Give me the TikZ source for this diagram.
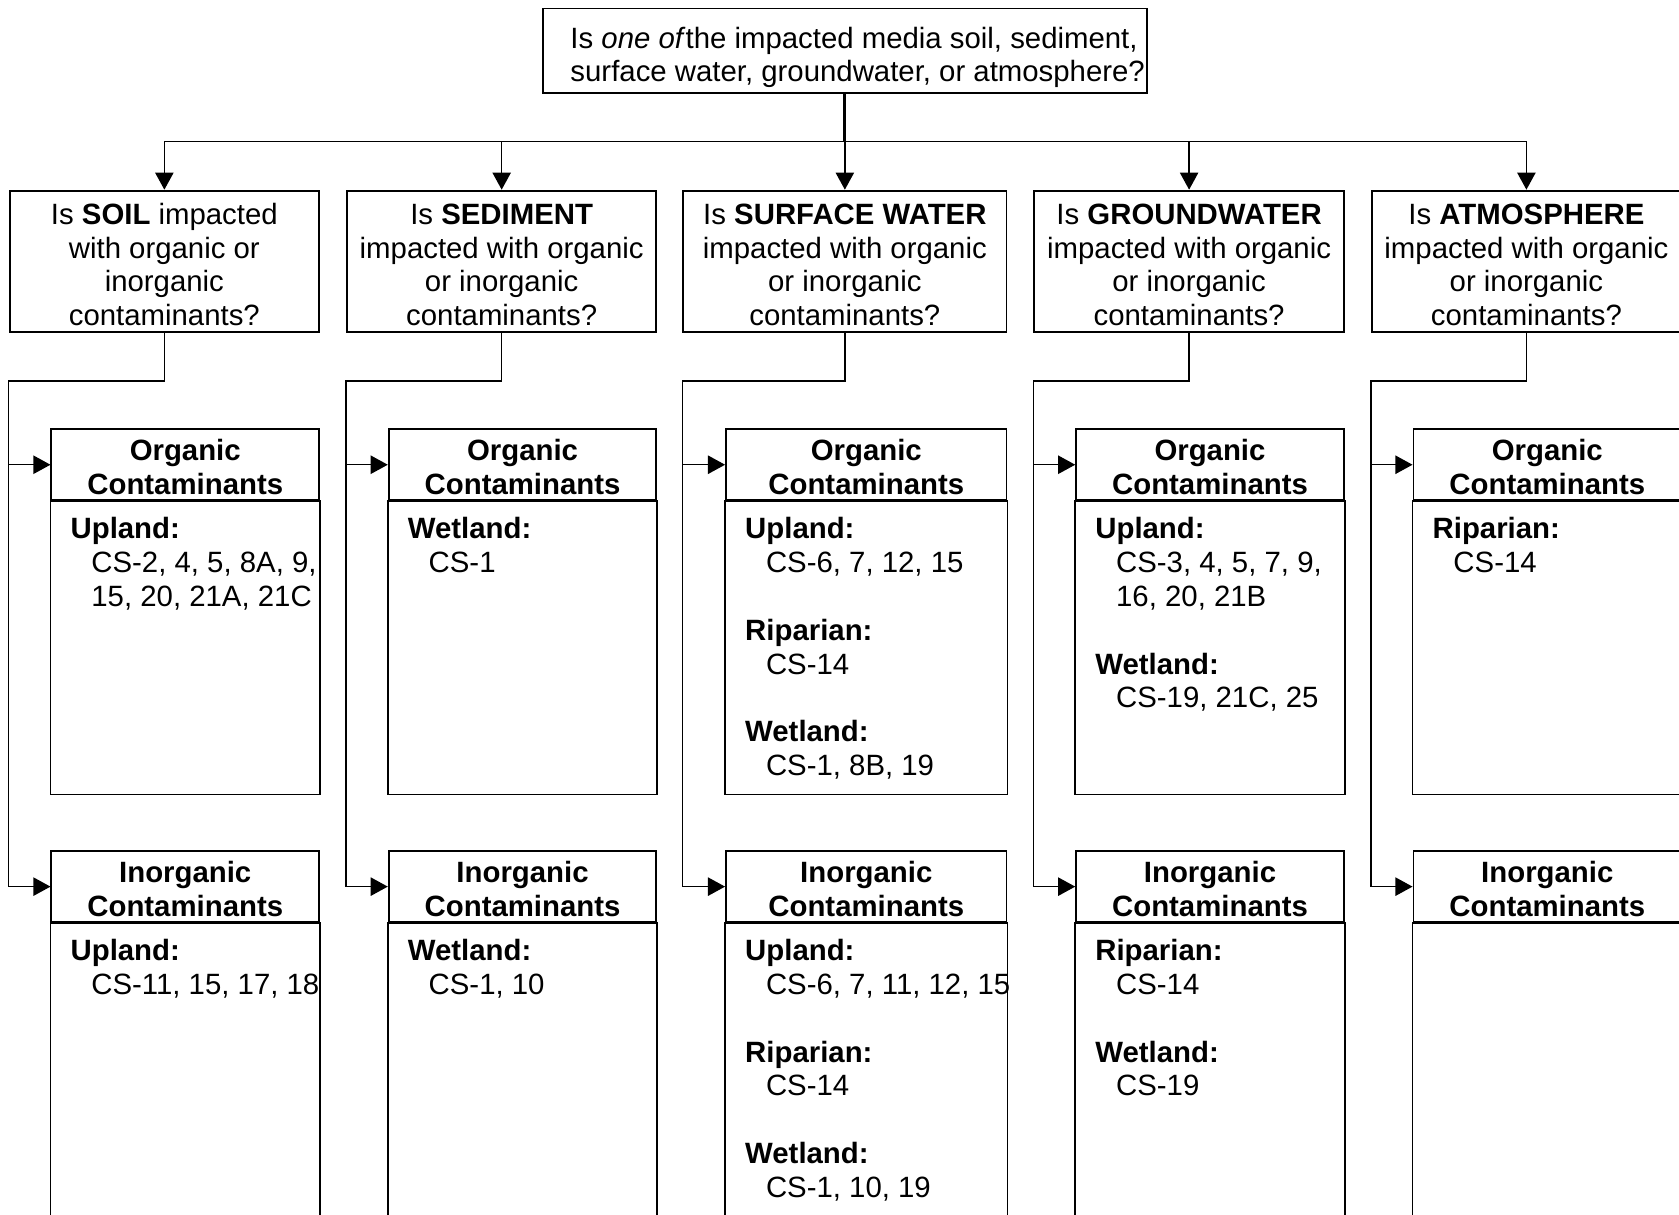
\documentclass[tikz,border=0pt]{standalone}
\usepackage{fontspec}
\setmainfont{Liberation Sans}
\usetikzlibrary{arrows.meta}
\newcommand{\pu}{0.4377pt}
\newcommand{\gap}{\hspace*{8.5pt}}
\newcommand{\lead}{\hspace*{10.5pt}}
\tikzset{
  txt/.style={font=\fontsize{12}{13.8}\selectfont},
  topbox/.style={txt, draw, line width=0.75pt, align=left, inner sep=0pt, minimum width={564*\pu}, minimum height={79*\pu}, text height=27.8pt, text depth=2.5pt},
  qbox/.style={txt, draw, line width=0.75pt, align=center, inner sep=0pt, minimum width={289*\pu}, minimum height={132*\pu}, text height=52.6pt, text depth=0pt},
  hbox/.style={txt, draw, line width=0.75pt, align=center, inner sep=0pt, minimum width={250*\pu}, minimum height={66*\pu}, font=\fontsize{12}{13.8}\selectfont\bfseries, text height=24.3pt, text depth=0pt},
  list/.style={txt, anchor=north west, align=left, inner sep=0pt},
  link/.style={line width=0.6pt},
  arr/.style={link, -{Triangle[length=7pt,width=7.5pt]}},
}
\begin{document}
\begin{tikzpicture}[x=\pu, y=-\pu]
  \useasboundingbox (0,0) rectangle (1568,1134);
  \clip (0,0) rectangle (1568,1134);
  % Question boxes
  \node[topbox] (top) at (789,47.5) {\lead Is \textit{one of}the impacted media soil, sediment,\\\lead surface water, groundwater, or atmosphere?};
  \node[qbox] (q1) at (153.5,244) {Is \textbf{SOIL} impacted\\with organic or\\inorganic\\contaminants?};
  \node[qbox] (q2) at (468.5,244) {Is \textbf{SEDIMENT}\\impacted with organic\\or inorganic\\contaminants?};
  \node[qbox, minimum width={302*\pu}] (q3) at (789,244) {Is \textbf{SURFACE WATER}\\impacted with organic\\or inorganic\\contaminants?};
  \node[qbox] (q4) at (1110.5,244) {Is \textbf{GROUNDWATER}\\impacted with organic\\or inorganic\\contaminants?};
  \node[qbox] (q5) at (1425.5,244) {Is \textbf{ATMOSPHERE}\\impacted with organic\\or inorganic\\contaminants?};
  % Contaminant headers
  \node[hbox] (oh1) at (173,434) {Organic\\Contaminants};
  \node[hbox] (oh2) at (488,434) {Organic\\Contaminants};
  \node[hbox, minimum width={262*\pu}] (oh3) at (809,434) {Organic\\Contaminants};
  \node[hbox] (oh4) at (1130,434) {Organic\\Contaminants};
  \node[hbox] (oh5) at (1445,434) {Organic\\Contaminants};
  \node[hbox] (ih1) at (173,828) {Inorganic\\Contaminants};
  \node[hbox] (ih2) at (488,828) {Inorganic\\Contaminants};
  \node[hbox, minimum width={262*\pu}] (ih3) at (809,828) {Inorganic\\Contaminants};
  \node[hbox] (ih4) at (1130,828) {Inorganic\\Contaminants};
  \node[hbox] (ih5) at (1445,828) {Inorganic\\Contaminants};
  % Box bodies
  \foreach \i in {1,...,5} {
    \draw[line width=0.75pt] (oh\i.south west) rectangle (oh\i.south east |- 0,742);
    \draw[line width=0.75pt] (ih\i.south west) rectangle (ih\i.south east |- 0,1200);
  }
  % Site lists
  \node[list] (ot1) at (65.5,483) {\textbf{Upland:}\\\gap CS-2, 4, 5, 8A, 9,\\\gap 15, 20, 21A, 21C};
  \node[list] (ot2) at (380.5,483) {\textbf{Wetland:}\\\gap CS-1};
  \node[list] (ot3) at (695.5,483) {\textbf{Upland:}\\\gap CS-6, 7, 12, 15\\[13.8pt]\textbf{Riparian:}\\\gap CS-14\\[13.8pt]\textbf{Wetland:}\\\gap CS-1, 8B, 19};
  \node[list] (ot4) at (1022.5,483) {\textbf{Upland:}\\\gap CS-3, 4, 5, 7, 9,\\\gap 16, 20, 21B\\[13.8pt]\textbf{Wetland:}\\\gap CS-19, 21C, 25};
  \node[list] (ot5) at (1337.5,483) {\textbf{Riparian:}\\\gap CS-14};
  \node[list] (it1) at (65.5,877) {\textbf{Upland:}\\\gap CS-11, 15, 17, 18};
  \node[list] (it2) at (380.5,877) {\textbf{Wetland:}\\\gap CS-1, 10};
  \node[list] (it3) at (695.5,877) {\textbf{Upland:}\\\gap CS-6, 7, 11, 12, 15\\[13.8pt]\textbf{Riparian:}\\\gap CS-14\\[13.8pt]\textbf{Wetland:}\\\gap CS-1, 10, 19};
  \node[list] (it4) at (1022.5,877) {\textbf{Riparian:}\\\gap CS-14\\[13.8pt]\textbf{Wetland:}\\\gap CS-19};
  % Connectors
  \coordinate (bus) at (789,132);
  \draw[link, line width=1.2pt] (top.south) -- (bus);
  \draw[link] (q1.north |- bus) -- (q5.north |- bus);
  \foreach \i in {1,...,5} {
    \draw[arr] (q\i.north |- bus) -- (q\i.north);
    \draw[arr] (q\i.south) |- (q\i.west |- 0,356) |- (ih\i.west);
    \draw[arr] (q\i.west |- oh\i.west) -- (oh\i.west);
  }
\end{tikzpicture}
\end{document}
